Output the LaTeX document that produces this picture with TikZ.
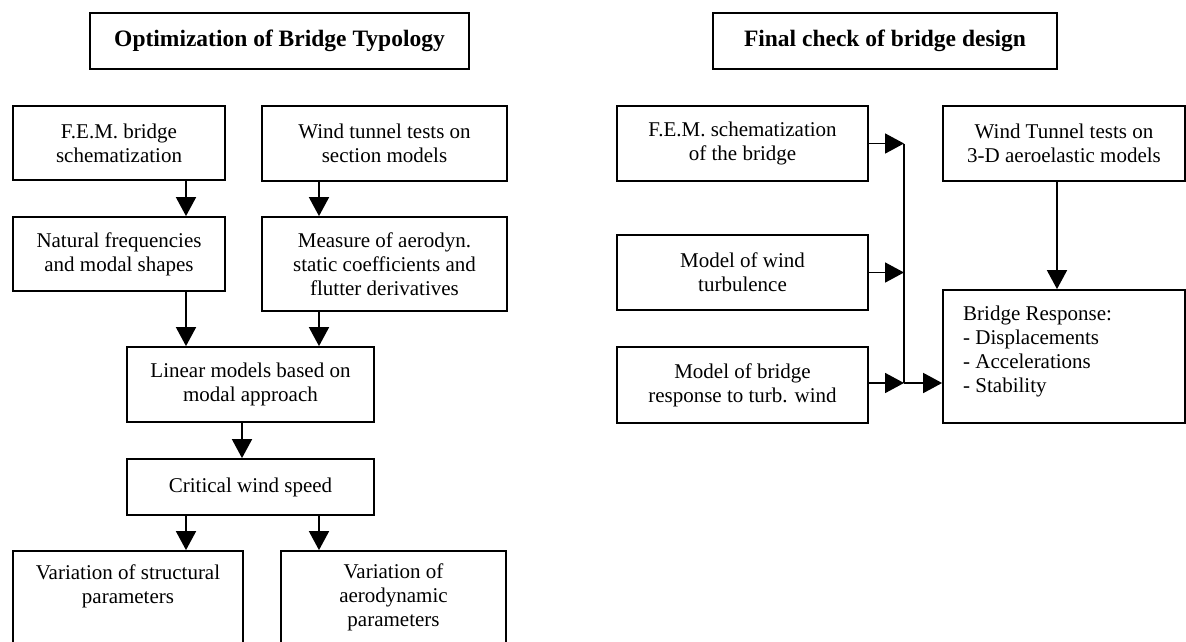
\documentclass[tikz,border=0pt]{standalone}
\usepackage{fontspec}
\setmainfont{Liberation Serif}
\usetikzlibrary{arrows.meta}
\begin{document}
\begin{tikzpicture}[x=1pt,y=-1pt,
  box/.style={draw, line width=1.8pt, inner sep=0pt, align=center,
    font=\fontsize{21}{24}\selectfont},
  titlebox/.style={draw, line width=1.8pt, inner sep=0pt, align=center,
    font=\fontsize{23.5}{26}\selectfont\bfseries},
  txt/.style={inner sep=0pt, align=center, font=\fontsize{21}{24}\selectfont},
  arr/.style={line width=1.8pt, -{Triangle[length=19pt,width=20pt]}},
  ln/.style={line width=1.8pt}]
\useasboundingbox (0,0) rectangle (1186,641);
\clip (0,0) rectangle (1186,641);
\fill[white] (0,0) rectangle (1186,641);
% column coordinates
\coordinate (cA) at (186,0);
\coordinate (cB) at (319,0);
\coordinate (cC) at (242,0);
\coordinate (cD) at (1057,0);
% left part
\node[titlebox, minimum width=379pt, minimum height=56pt] (t1) at (279.5,41) {Optimization of Bridge Typology};
\node[box, minimum width=212pt, minimum height=74pt] (fem1) at (119,143) {F.E.M. bridge\\schematization};
\node[box, minimum width=245pt, minimum height=75pt] (wtt) at (384.5,143.5) {Wind tunnel tests on\\section models};
\node[box, minimum width=212pt, minimum height=74pt] (nat) at (119,254) {Natural frequencies\\and modal shapes};
\node[box, minimum width=245pt, minimum height=94pt] (meas) at (384.5,264) {Measure of aerodyn.\\static coefficients and\\flutter derivatives};
\node[box, minimum width=247pt, minimum height=75pt] (lin) at (250.5,384.5) {Linear models based on\\modal approach};
\node[box, minimum width=247pt, minimum height=56pt] (crit) at (250.5,487) {Critical wind speed};
\node[box, minimum width=230pt, minimum height=130pt] (vs) at (128,616) {};
\node[txt] (vst) at (128,586) {Variation of structural\\parameters};
\node[box, minimum width=225pt, minimum height=130pt] (va) at (393.5,616) {};
\node[txt] (vat) at (393.5,597) {Variation of\\aerodynamic\\parameters};
\draw[arr] (fem1.south -| cA) -- (nat.north -| cA);
\draw[arr] (wtt.south -| cB) -- (meas.north -| cB);
\draw[arr] (nat.south -| cA) -- (lin.north -| cA);
\draw[arr] (meas.south -| cB) -- (lin.north -| cB);
\draw[arr] (lin.south -| cC) -- (crit.north -| cC);
\draw[arr] (crit.south -| cA) -- (vs.north -| cA);
\draw[arr] (crit.south -| cB) -- (va.north -| cB);
% right part
\node[titlebox, minimum width=344pt, minimum height=56pt] (t2) at (885,41) {Final check of bridge design};
\node[box, minimum width=251pt, minimum height=75pt] (fem2) at (742.5,143.5) {F.E.M. schematization\\of the bridge};
\node[box, minimum width=251pt, minimum height=75pt] (wind) at (742.5,272.5) {Model of wind\\turbulence};
\node[box, minimum width=251pt, minimum height=76pt] (resp) at (742.5,385) {Model of bridge\\response to turb. wind};
\node[box, minimum width=242pt, minimum height=75pt] (wt3d) at (1064,143.5) {Wind Tunnel tests on\\3-D aeroelastic models};
\node[box, minimum width=242pt, minimum height=133pt] (br) at (1064,356.5) {};
\node[txt, anchor=west, align=left] (brt) at (963,351) {Bridge Response:\\- Displacements\\- Accelerations\\- Stability};
\coordinate (jx) at (904,0);
\coordinate (j1) at (fem2.east -| jx);
\coordinate (j3) at (904,383);
\draw[arr] (fem2.east) -- (j1);
\draw[arr] (wind.east) -- (wind.east -| jx);
\draw[arr] (resp.east |- j3) -- (j3);
\draw[ln] (j1) -- (j3);
\draw[arr] (j3) -- (br.west |- j3);
\draw[arr] (wt3d.south -| cD) -- (br.north -| cD);
\end{tikzpicture}
\end{document}
